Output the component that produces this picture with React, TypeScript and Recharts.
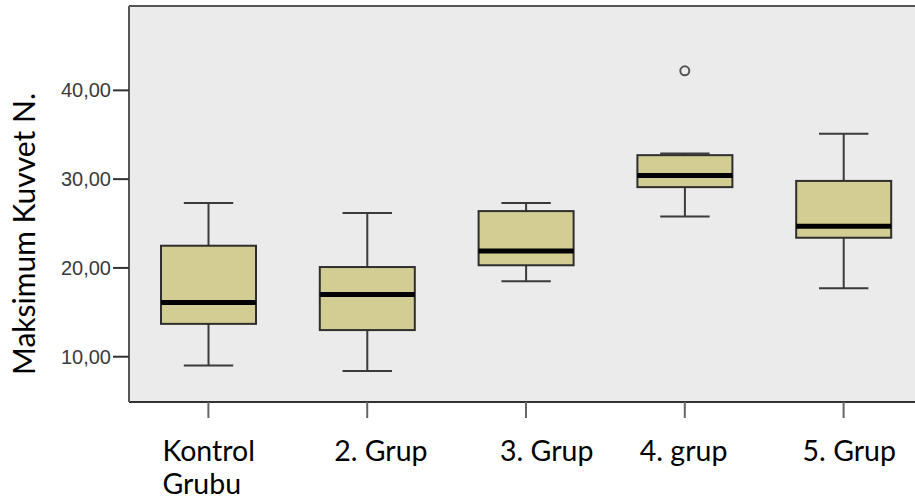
import {
  ComposedChart,
  Bar,
  Scatter,
  XAxis,
  YAxis,
  CartesianGrid,
  ReferenceLine,
} from "recharts";

// values
const groups = ["Kontrol\nGrubu", "2. Grup", "3. Grup", "4. grup", "5. Grup"];
const whiskerLow = [9.0, 8.4, 18.5, 25.8, 17.7];
const q1 = [13.7, 13.0, 20.3, 29.1, 23.4];
const median = [16.1, 17.0, 21.9, 30.4, 24.7];
const q3 = [22.5, 20.1, 26.4, 32.7, 29.8];
const whiskerHigh = [27.3, 26.2, 27.3, 32.9, 35.1];
const outliers = [null, null, null, 42.2, null];

const yTicks = [10, 20, 30, 40];
const Y_MIN = 4.9;
const Y_MAX = 49.5;

const data = groups.map((g, i) => ({
  group: g,
  min: whiskerLow[i],
  q1: q1[i],
  median: median[i],
  q3: q3[i],
  max: whiskerHigh[i],
  outlier: outliers[i],
}));

const FILL = "#d3cd93";
const EDGE = "#2e2e2e";
const LABEL_FONT = "Lato, 'Open Sans', sans-serif";

// manual nudges so tick labels sit where the pasted labels were
const labelShift = [-46, -33, -26, -45, -41];

const BoxShape = (props: any) => {
  const { x, y, width, height, payload } = props;
  if (height == null || !payload) return null;
  const span = payload.max - payload.min;
  const py = (v: number) => y + ((payload.max - v) / span) * height;
  const cx = x + width / 2;
  const cap = width * 0.52;
  const top = py(payload.q3);
  const bot = py(payload.q1);
  return (
    <g>
      <line x1={cx} x2={cx} y1={py(payload.max)} y2={top} stroke="#3a3a3a" strokeWidth={2} />
      <line x1={cx} x2={cx} y1={bot} y2={py(payload.min)} stroke="#3a3a3a" strokeWidth={2} />
      <line x1={cx - cap / 2} x2={cx + cap / 2} y1={py(payload.max)} y2={py(payload.max)} stroke="#3a3a3a" strokeWidth={2} />
      <line x1={cx - cap / 2} x2={cx + cap / 2} y1={py(payload.min)} y2={py(payload.min)} stroke="#3a3a3a" strokeWidth={2} />
      <rect x={x} y={top} width={width} height={bot - top} fill={FILL} stroke={EDGE} strokeWidth={2} />
      <line x1={x} x2={x + width} y1={py(payload.median)} y2={py(payload.median)} stroke="#000" strokeWidth={5} />
    </g>
  );
};

const OutlierDot = (props: any) => {
  const { cx, cy, payload } = props;
  if (payload?.outlier == null || cy == null) return null;
  return <circle cx={cx} cy={cy} r={4.5} fill="none" stroke="#555" strokeWidth={2} />;
};

const GroupTick = (props: any) => {
  const { x, y, payload, index } = props;
  const lines = String(payload.value).split("\n");
  return (
    <text
      x={x + labelShift[index]}
      y={y + 41}
      fill="#000"
      fontSize={28.5}
      fontFamily={LABEL_FONT}
      textAnchor="start"
    >
      {lines.map((l, i) => (
        <tspan key={i} x={x + labelShift[index]} dy={i === 0 ? 0 : 33}>
          {l}
        </tspan>
      ))}
    </text>
  );
};

const YTitle = (props: any) => {
  const { viewBox } = props;
  const cy = viewBox.y + viewBox.height / 2 + 30;
  return (
    <text
      x={35}
      y={cy}
      transform={`rotate(-90, 35, ${cy})`}
      textAnchor="middle"
      fontSize={30}
      fontFamily={LABEL_FONT}
      fill="#000"
    >
      Maksimum Kuvvet N.
    </text>
  );
};

export default function App() {
  return (
    <div
      style={{
        position: "absolute",
        left: 0,
        top: 0,
        width: 915,
        height: 504,
        overflow: "hidden",
        background: "#fff",
      }}
    >
      <ComposedChart
        width={923}
        height={504}
        data={data}
        margin={{ top: 6, right: 0, left: 0, bottom: 7 }}
      >
        <CartesianGrid fill="#ebebeb" horizontal={false} vertical={false} />
        <XAxis
          dataKey="group"
          height={95}
          axisLine={{ stroke: "#333", strokeWidth: 2 }}
          tickLine={{ stroke: "#666", strokeWidth: 2 }}
          tickSize={16}
          tick={<GroupTick />}
          interval={0}
        />
        <YAxis
          width={129}
          domain={[Y_MIN, Y_MAX]}
          ticks={yTicks}
          allowDataOverflow
          axisLine={{ stroke: "#555", strokeWidth: 2 }}
          tickLine={{ stroke: "#333", strokeWidth: 2 }}
          tickSize={16}
          tickMargin={2}
          tick={{ fill: "#3a3a3a", fontSize: 20, fontFamily: "'Liberation Sans', Arial, sans-serif" }}
          tickFormatter={(v: number) => v.toFixed(2).replace(".", ",")}
          label={<YTitle />}
        />
        <ReferenceLine y={Y_MAX} stroke="#555" strokeWidth={2} />
        <Bar
          dataKey={(d: any) => [d.min, d.max]}
          barSize={95}
          shape={<BoxShape />}
          isAnimationActive={false}
        />
        <Scatter dataKey="outlier" shape={<OutlierDot />} isAnimationActive={false} />
      </ComposedChart>
    </div>
  );
}
